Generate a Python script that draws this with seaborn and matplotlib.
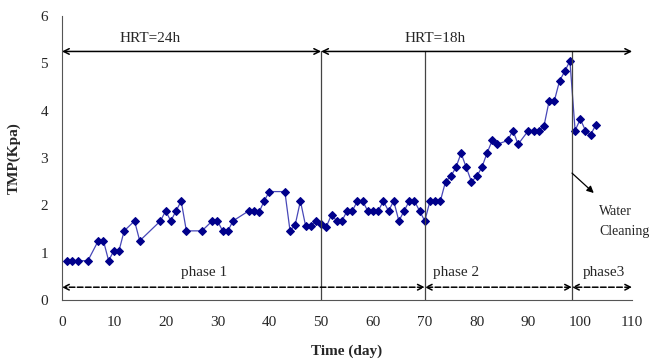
import matplotlib
matplotlib.use("Agg")
import matplotlib.pyplot as plt
import seaborn as sns
import pandas as pd

# data
days = [1, 2, 3, 5, 7, 8, 9, 10, 11, 12, 14, 15, 19, 20, 21, 22, 23, 24, 27, 29,
        30, 31, 32, 33, 36, 37, 38, 39, 40, 43, 44, 45, 46, 47, 48, 49, 50, 51, 52, 53,
        54, 55, 56, 57, 58, 59, 60, 61, 62, 63, 64, 65, 66, 67, 68, 69, 70, 71, 72, 73,
        74, 75, 76, 77, 78, 79, 80, 81, 82, 83, 84, 86, 87, 88, 90, 91, 92, 93, 94, 95,
        96, 97, 98, 99, 100, 101, 102, 103]
tmp = [0.83, 0.83, 0.83, 0.83, 1.25, 1.25, 0.83, 1.04, 1.04, 1.46, 1.67, 1.25, 1.67, 1.88, 1.67, 1.88, 2.09, 1.46, 1.46, 1.67,
       1.67, 1.46, 1.46, 1.67, 1.88, 1.88, 1.85, 2.09, 2.29, 2.29, 1.46, 1.59, 2.09, 1.57, 1.57, 1.67, 1.60, 1.55, 1.80, 1.67,
       1.67, 1.88, 1.88, 2.09, 2.09, 1.88, 1.88, 1.88, 2.09, 1.88, 2.09, 1.67, 1.88, 2.09, 2.09, 1.88, 1.67, 2.09, 2.09, 2.09,
       2.50, 2.61, 2.80, 3.10, 2.80, 2.50, 2.61, 2.80, 3.10, 3.37, 3.29, 3.37, 3.58, 3.29, 3.58, 3.58, 3.58, 3.68, 4.21, 4.21,
       4.63, 4.83, 5.05, 3.58, 3.82, 3.58, 3.49, 3.70]

hrt_bounds = [0, 50, 110]
hrt_labels = ["HRT=24h", "HRT=18h"]
phase_bounds = [0, 70, 98.4, 110]
phase_labels = ["phase 1", "phase 2", "phase3"]

df = pd.DataFrame({"day": days, "tmp": tmp})

sns.set_style("white")
plt.rcParams["font.family"] = ["Liberation Serif", "DejaVu Serif"]

fig = plt.figure(figsize=(6.49, 3.6), dpi=100)
ax = fig.add_axes([0.0955, 0.1667, 0.8785, 0.789])

sns.lineplot(data=df, x="day", y="tmp", ax=ax, color="#4848b8", linewidth=0.9,
             marker="D", markersize=4, markerfacecolor="#00008b",
             markeredgecolor="#00008b")

ax.set_xlim(0, 110)
ax.set_ylim(0, 6)
ax.set_xticks(range(0, 111, 10))
ax.set_yticks(range(0, 7))
sns.despine(ax=ax)
for s in ["left", "bottom"]:
    ax.spines[s].set_color("#555555")
    ax.spines[s].set_linewidth(0.8)
ax.tick_params(axis="x", direction="inout", length=5, width=0.8, color="#555555",
               labelsize=11, pad=9)
ax.tick_params(axis="y", direction="out", length=4, width=0.8, color="#555555",
               labelsize=11, pad=6)
ax.set_xlabel("Time (day)", fontsize=11, fontweight="bold", labelpad=11)
ax.set_ylabel("TMP(Kpa)", fontsize=11, fontweight="bold", labelpad=14)

# HRT arrows on top
y_top = 5.25
for i in range(len(hrt_labels)):
    a, b = hrt_bounds[i], hrt_bounds[i + 1]
    ax.annotate("", xy=(a, y_top), xytext=(b, y_top),
                arrowprops=dict(arrowstyle="<->", color="black", lw=1.1,
                                shrinkA=0, shrinkB=0, mutation_scale=10))
ax.text(17, 5.52, hrt_labels[0], fontsize=11, ha="center", va="center")
ax.text(72, 5.52, hrt_labels[1], fontsize=11, ha="center", va="center")

# vertical separators
for xv in [50, 70, 98.4]:
    ax.plot([xv, xv], [0, y_top], color="#444444", lw=0.9)

# phase arrows at bottom
y_bot = 0.27
for i in range(len(phase_labels)):
    a, b = phase_bounds[i], phase_bounds[i + 1]
    ax.annotate("", xy=(a, y_bot), xytext=(b, y_bot),
                arrowprops=dict(arrowstyle="<->", color="black", lw=1.1, ls="--",
                                shrinkA=0, shrinkB=0, mutation_scale=10))
ax.text(27.5, 0.58, phase_labels[0], fontsize=11, ha="center", va="center")
ax.text(76, 0.58, phase_labels[1], fontsize=11, ha="center", va="center")
ax.text(104.5, 0.58, phase_labels[2], fontsize=11, ha="center", va="center")

# water cleaning note
ax.annotate("", xy=(102.6, 2.26), xytext=(98.4, 2.68),
            arrowprops=dict(arrowstyle="-|>", color="black", lw=0.9,
                            shrinkA=0, shrinkB=0, mutation_scale=10))
ax.text(103.6, 1.87, "Water", fontsize=10, ha="left", va="center")
ax.text(103.6, 1.45, "Cleaning", fontsize=10, ha="left", va="center")

fig.savefig("out.png", dpi=100)
